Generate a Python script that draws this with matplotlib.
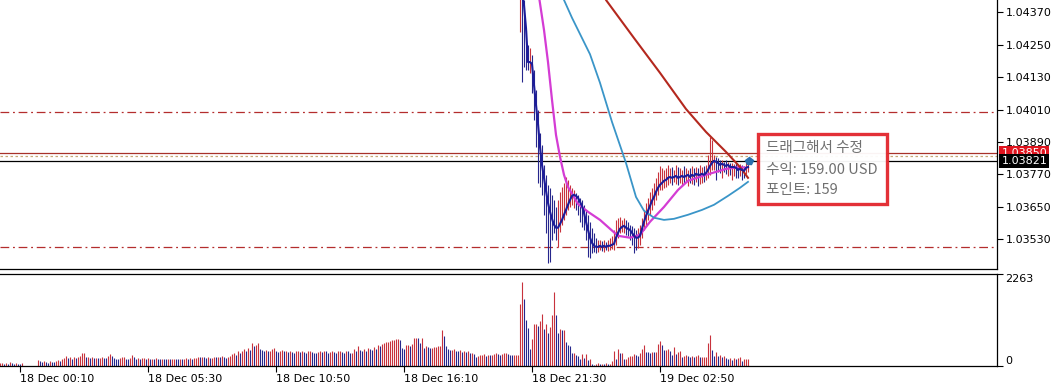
import matplotlib.pyplot as plt
import matplotlib.patches as mpatches
import numpy as np

# EURUSD-like M5 chart, times in minutes from 18 Dec 00:00
price_start = 1260
close = [1.04472, 1.04435, 1.04397, 1.04312, 1.04186, 1.04186, 1.04179, 1.04101, 1.04027, 1.03957,
         1.03872, 1.03805, 1.03757, 1.03709, 1.03664, 1.03631, 1.03605, 1.03583, 1.03572, 1.03572,
         1.03586, 1.03601, 1.03620, 1.03638, 1.03657, 1.03675, 1.03690, 1.03694, 1.03690, 1.03683,
         1.03668, 1.03653, 1.03627, 1.03594, 1.03564, 1.03535, 1.03516, 1.03505, 1.03501, 1.03501,
         1.03505, 1.03501, 1.03505, 1.03501, 1.03505, 1.03505, 1.03509, 1.03512, 1.03535, 1.03553,
         1.03568, 1.03575, 1.03579, 1.03572, 1.03568, 1.03564, 1.03553, 1.03542, 1.03535, 1.03535,
         1.03542, 1.03568, 1.03594, 1.03616, 1.03635, 1.03653, 1.03672, 1.03686, 1.03705, 1.03720,
         1.03731, 1.03738, 1.03746, 1.03749, 1.03757, 1.03760, 1.03757, 1.03760, 1.03764, 1.03757,
         1.03760, 1.03764, 1.03760, 1.03764, 1.03768, 1.03760, 1.03768, 1.03764, 1.03772, 1.03768,
         1.03768, 1.03772, 1.03768, 1.03775, 1.03786, 1.03801, 1.03812, 1.03820, 1.03816, 1.03812,
         1.03805, 1.03809, 1.03805, 1.03801, 1.03805, 1.03797, 1.03797, 1.03797, 1.03794, 1.03786,
         1.03790, 1.03786, 1.03783, 1.03794, 1.03797]
high = [1.04564, 1.04453, 1.04416, 1.04305, 1.04249, 1.04238, 1.04212, 1.04157, 1.04083, 1.04009,
        1.03923, 1.03879, 1.03805, 1.03768, 1.03731, 1.03720, 1.03694, 1.03675, 1.03649, 1.03675,
        1.03705, 1.03723, 1.03738, 1.03760, 1.03749, 1.03731, 1.03720, 1.03712, 1.03701, 1.03694,
        1.03683, 1.03675, 1.03657, 1.03638, 1.03620, 1.03594, 1.03572, 1.03553, 1.03535, 1.03527,
        1.03527, 1.03523, 1.03527, 1.03520, 1.03527, 1.03535, 1.03542, 1.03564, 1.03601, 1.03609,
        1.03612, 1.03601, 1.03609, 1.03601, 1.03594, 1.03583, 1.03579, 1.03572, 1.03564, 1.03572,
        1.03583, 1.03609, 1.03638, 1.03664, 1.03683, 1.03705, 1.03720, 1.03738, 1.03757, 1.03779,
        1.03801, 1.03794, 1.03786, 1.03794, 1.03805, 1.03794, 1.03797, 1.03786, 1.03805, 1.03797,
        1.03794, 1.03786, 1.03801, 1.03794, 1.03786, 1.03794, 1.03801, 1.03794, 1.03797, 1.03794,
        1.03805, 1.03797, 1.03801, 1.03805, 1.03842, 1.03909, 1.03897, 1.03842, 1.03835, 1.03831,
        1.03823, 1.03823, 1.03816, 1.03823, 1.03816, 1.03812, 1.03812, 1.03809, 1.03812, 1.03805,
        1.03809, 1.03805, 1.03801, 1.03816, 1.03816]
low = [1.04297, 1.04112, 1.04168, 1.04157, 1.04157, 1.04146, 1.04072, 1.03972, 1.03872, 1.03738,
       1.03723, 1.03694, 1.03620, 1.03553, 1.03442, 1.03446, 1.03527, 1.03553, 1.03527, 1.03501,
       1.03557, 1.03583, 1.03601, 1.03620, 1.03638, 1.03649, 1.03657, 1.03646, 1.03638, 1.03620,
       1.03594, 1.03575, 1.03564, 1.03527, 1.03464, 1.03460, 1.03479, 1.03483, 1.03479, 1.03483,
       1.03490, 1.03486, 1.03483, 1.03490, 1.03486, 1.03490, 1.03494, 1.03490, 1.03509, 1.03535,
       1.03553, 1.03557, 1.03553, 1.03546, 1.03542, 1.03527, 1.03509, 1.03479, 1.03490, 1.03497,
       1.03509, 1.03535, 1.03564, 1.03583, 1.03601, 1.03620, 1.03638, 1.03657, 1.03675, 1.03694,
       1.03712, 1.03712, 1.03720, 1.03723, 1.03731, 1.03738, 1.03731, 1.03742, 1.03735, 1.03731,
       1.03738, 1.03727, 1.03735, 1.03742, 1.03727, 1.03738, 1.03735, 1.03731, 1.03742, 1.03727,
       1.03735, 1.03738, 1.03742, 1.03749, 1.03757, 1.03768, 1.03786, 1.03786, 1.03749, 1.03779,
       1.03775, 1.03757, 1.03779, 1.03772, 1.03764, 1.03768, 1.03749, 1.03764, 1.03757, 1.03757,
       1.03764, 1.03749, 1.03757, 1.03772, 1.03779]

# moving averages, sampled along the curves
ma_fast_t = [1290, 1305, 1320, 1330, 1340, 1350, 1360, 1370, 1380, 1405, 1430, 1460,
             1485, 1505, 1535, 1560, 1585, 1620, 1655, 1680, 1725, 1775, 1810, 1825]
ma_fast = [1.04564, 1.04453, 1.04305, 1.04186, 1.04046, 1.03916, 1.03835, 1.03768, 1.03723,
           1.03660, 1.03631, 1.03601, 1.03568, 1.03542, 1.03535, 1.03546, 1.03594, 1.03649,
           1.03712, 1.03746, 1.03768, 1.03790, 1.03797, 1.03794]
ma_mid_t = [1350, 1370, 1390, 1405, 1420, 1435, 1460, 1490, 1525, 1550, 1570, 1595, 1620, 1645,
            1680, 1715, 1745, 1780, 1810, 1830]
ma_mid = [1.04490, 1.04416, 1.04350, 1.04305, 1.04260, 1.04215, 1.04109, 1.03964, 1.03812,
          1.03686, 1.03635, 1.03609, 1.03601, 1.03605, 1.03620, 1.03638, 1.03657, 1.03690,
          1.03720, 1.03742]
ma_slow_t = [1460, 1475, 1545, 1610, 1675, 1725, 1775, 1810, 1830]
ma_slow = [1.04490, 1.04416, 1.04275, 1.04146, 1.04012, 1.03927, 1.03853, 1.03797, 1.03757]

vol_start = -40
volume = [70, 85, 60, 75, 55, 90, 65, 50, 80, 60, 45, 70,
          10, 0, 0, 5, 0, 0, 10,
          140, 120, 110, 130, 95, 85, 120, 110, 100, 130, 140, 120,
          170, 200, 240, 190, 210, 180, 230, 200, 220, 250, 330, 330,
          220, 230, 200, 210, 190, 200, 185, 195, 210, 200, 190, 240,
          290, 240, 200, 180, 170, 195, 210, 230, 180, 170, 200, 260,
          210, 180, 190, 175, 190, 200, 175, 185, 170, 180, 175, 190,
          175, 160, 180, 170, 165, 175, 160, 170, 180, 170, 165, 175,
          170, 180, 185, 175, 190, 180, 195, 200, 220, 210, 230, 210,
          200, 215, 190, 205, 220, 210, 230, 215, 240, 220, 205, 230,
          250, 300, 330, 280, 370, 330, 360, 420, 380, 450, 400, 570,
          480, 520, 560, 430, 400, 370, 390, 360, 380, 420, 440, 370,
          350, 380, 400, 360, 370, 340, 380, 350, 330, 360, 380, 350,
          370, 340, 320, 360, 380, 350, 330, 310, 350, 370, 340, 380,
          360, 330, 350, 370, 340, 320, 360, 380, 350, 330, 370, 360,
          320, 330, 420, 380, 490, 400, 370, 410, 380, 440, 420, 390,
          470, 430, 520, 500, 540, 560, 580, 600, 620, 640, 650, 660,
          670, 630, 450, 430, 510, 520, 500, 530, 690, 700, 680, 560,
          700, 450, 490, 470, 440, 450, 460, 470, 480, 500, 880, 740,
          480, 420, 390, 400, 420, 380, 360, 400, 350, 380, 340, 360,
          320, 330, 290, 230, 250, 260, 280, 300, 250, 270, 260, 280,
          300, 310, 290, 280, 300,
          320, 330, 300, 270, 260, 260, 260, 260,
          1530, 2070, 1640, 1130, 935, 410, 670, 1040, 1040, 985, 1100, 1290, 900, 1040, 800,
          960, 1250, 1820, 1250, 800, 900, 880, 880, 590, 520, 490, 330, 330, 260, 250, 165,
          290, 200, 290, 150, 165, 40, 25, 40, 80, 60, 60, 40, 80, 40, 40,
          120, 370, 165, 410, 330, 330, 165, 165, 230, 250, 250, 290, 260,
          250, 310, 410, 520,
          350, 340, 330, 350, 340, 350, 540, 620, 520, 390, 390, 420, 380, 270, 460, 290,
          350, 380, 230, 250, 270, 250, 210, 250, 210, 250, 270, 210, 230, 230, 230, 570,
          760, 390, 250, 350, 250, 270, 210, 250, 190, 165, 190, 150, 190, 165, 190, 210,
          130, 170, 170, 170]
vol_max = 2263

xtick_t = [10, 330, 650, 970, 1290, 1610]
xtick_labels = ['18 Dec 00:10', '18 Dec 05:30', '18 Dec 10:50',
                '18 Dec 16:10', '18 Dec 21:30', '19 Dec 02:50']
ytick_prices = [1.03530, 1.03650, 1.03770, 1.03890, 1.04010, 1.04130, 1.04250, 1.04370]
levels = [1.04001, 1.03501]
line_price = 1.03850
ask_price = 1.03839
bid_price = 1.03821
tip_lines = ['드래그해서 수정', '수익: 159.00 USD', '포인트: 159']

RED = '#c8323c'
NAVY = '#26268c'

W, H = 1055, 386
fig = plt.figure(figsize=(W / 100, H / 100), dpi=100)
ax = fig.add_axes([0, 1 - 269 / H, 997 / W, 269 / H])
axv = fig.add_axes([0, 1 - 366 / H, 997 / W, 92 / H])

t_price = price_start + 5 * np.arange(len(close))
t_vol = vol_start + 5 * np.arange(len(volume))
prev = np.r_[close[0], close[:-1]]
bar_cols = [RED if c >= p else NAVY for c, p in zip(close, prev)]

# price panel
ax.vlines(t_price, low, high, colors=bar_cols, lw=0.8, zorder=2)
ax.plot(ma_fast_t, ma_fast, color='#d43cd4', lw=1.6, zorder=3)
ax.plot(ma_mid_t, ma_mid, color='#3a95c8', lw=1.3, zorder=3)
ax.plot(ma_slow_t, ma_slow, color='#b4281e', lw=1.5, zorder=3)
ax.plot(t_price, close, color='#1c1c9a', lw=1.5, zorder=4)

for lv in levels:
    ax.axhline(lv, color='#b42d2d', lw=0.9, ls=(0, (7, 3, 1.5, 3)), zorder=1)
ax.axhline(line_price, color='#a8322a', lw=0.9, zorder=1)
ax.axhline(ask_price, color='#c8aa78', lw=0.9, ls=(0, (2, 2)), zorder=1)
ax.axhline(bid_price, color='black', lw=0.9, zorder=1)
ax.plot(t_price[-1] + 2, bid_price, marker='p', ms=6, color='#2a6fae', zorder=5)

ax.set_xlim(-40, 2452.5)
ax.set_ylim(1.03419, 1.04416)
ax.set_xticks([])
ax.yaxis.tick_right()
ax.set_yticks(ytick_prices)
ax.set_yticklabels([f'{v:.5f}' for v in ytick_prices])
ax.tick_params(axis='y', direction='out', length=4, width=0.8, pad=2, labelsize=8)
for s in ['left', 'top']:
    ax.spines[s].set_visible(False)
for s in ['right', 'bottom']:
    ax.spines[s].set_linewidth(0.9)

yt = ax.get_yaxis_transform()
ax.text(1.0045, line_price, f'{line_price:.5f}', transform=yt, ha='left', va='center',
        color='white', fontsize=8, clip_on=False, zorder=6,
        bbox=dict(boxstyle='square,pad=0.18', fc='#e0141e', ec='none'))
ax.text(1.0045, bid_price, f'{bid_price:.5f}', transform=yt, ha='left', va='center',
        color='white', fontsize=8, clip_on=False, zorder=7,
        bbox=dict(boxstyle='square,pad=0.18', fc='black', ec='none'))

# volume panel
vprev = np.r_[volume[0], volume[:-1]]
vol_cols = [RED if v >= p else NAVY for v, p in zip(volume, vprev)]
axv.vlines(t_vol, 0, volume, colors=vol_cols, lw=0.8)
axv.set_xlim(-40, 2452.5)
axv.set_ylim(0, vol_max)
axv.yaxis.tick_right()
axv.set_yticks([0, vol_max])
axv.set_yticklabels(['0', str(vol_max)])
axv.tick_params(axis='y', direction='out', length=4, width=0.8, pad=2, labelsize=8)
ylbl = axv.get_yticklabels()
ylbl[0].set_va('bottom')
ylbl[1].set_va('top')
axv.set_xticks(xtick_t)
axv.set_xticklabels(xtick_labels)
axv.tick_params(axis='x', direction='out', length=4, width=0.8, pad=1.5, labelsize=8)
for lbl in axv.get_xticklabels():
    lbl.set_ha('left')
axv.spines['left'].set_visible(False)
for s in ['right', 'bottom', 'top']:
    axv.spines[s].set_linewidth(0.9)

# drag tooltip
x0, y0, x1, y1 = 758, 134, 887, 204
fig.add_artist(mpatches.Rectangle((x0 / W, 1 - y1 / H), (x1 - x0) / W, (y1 - y0) / H,
                                  transform=fig.transFigure, fc='white', ec='#e2262c',
                                  lw=2.4, alpha=0.95, zorder=10))
for txt, yc in zip(tip_lines, [148, 170, 190]):
    fig.text(766 / W, 1 - yc / H, txt, ha='left', va='center', fontsize=10.5, color='#707070',
             family=['Noto Sans CJK KR', 'DejaVu Sans'], zorder=11)

fig.savefig('out.png', dpi=100)
